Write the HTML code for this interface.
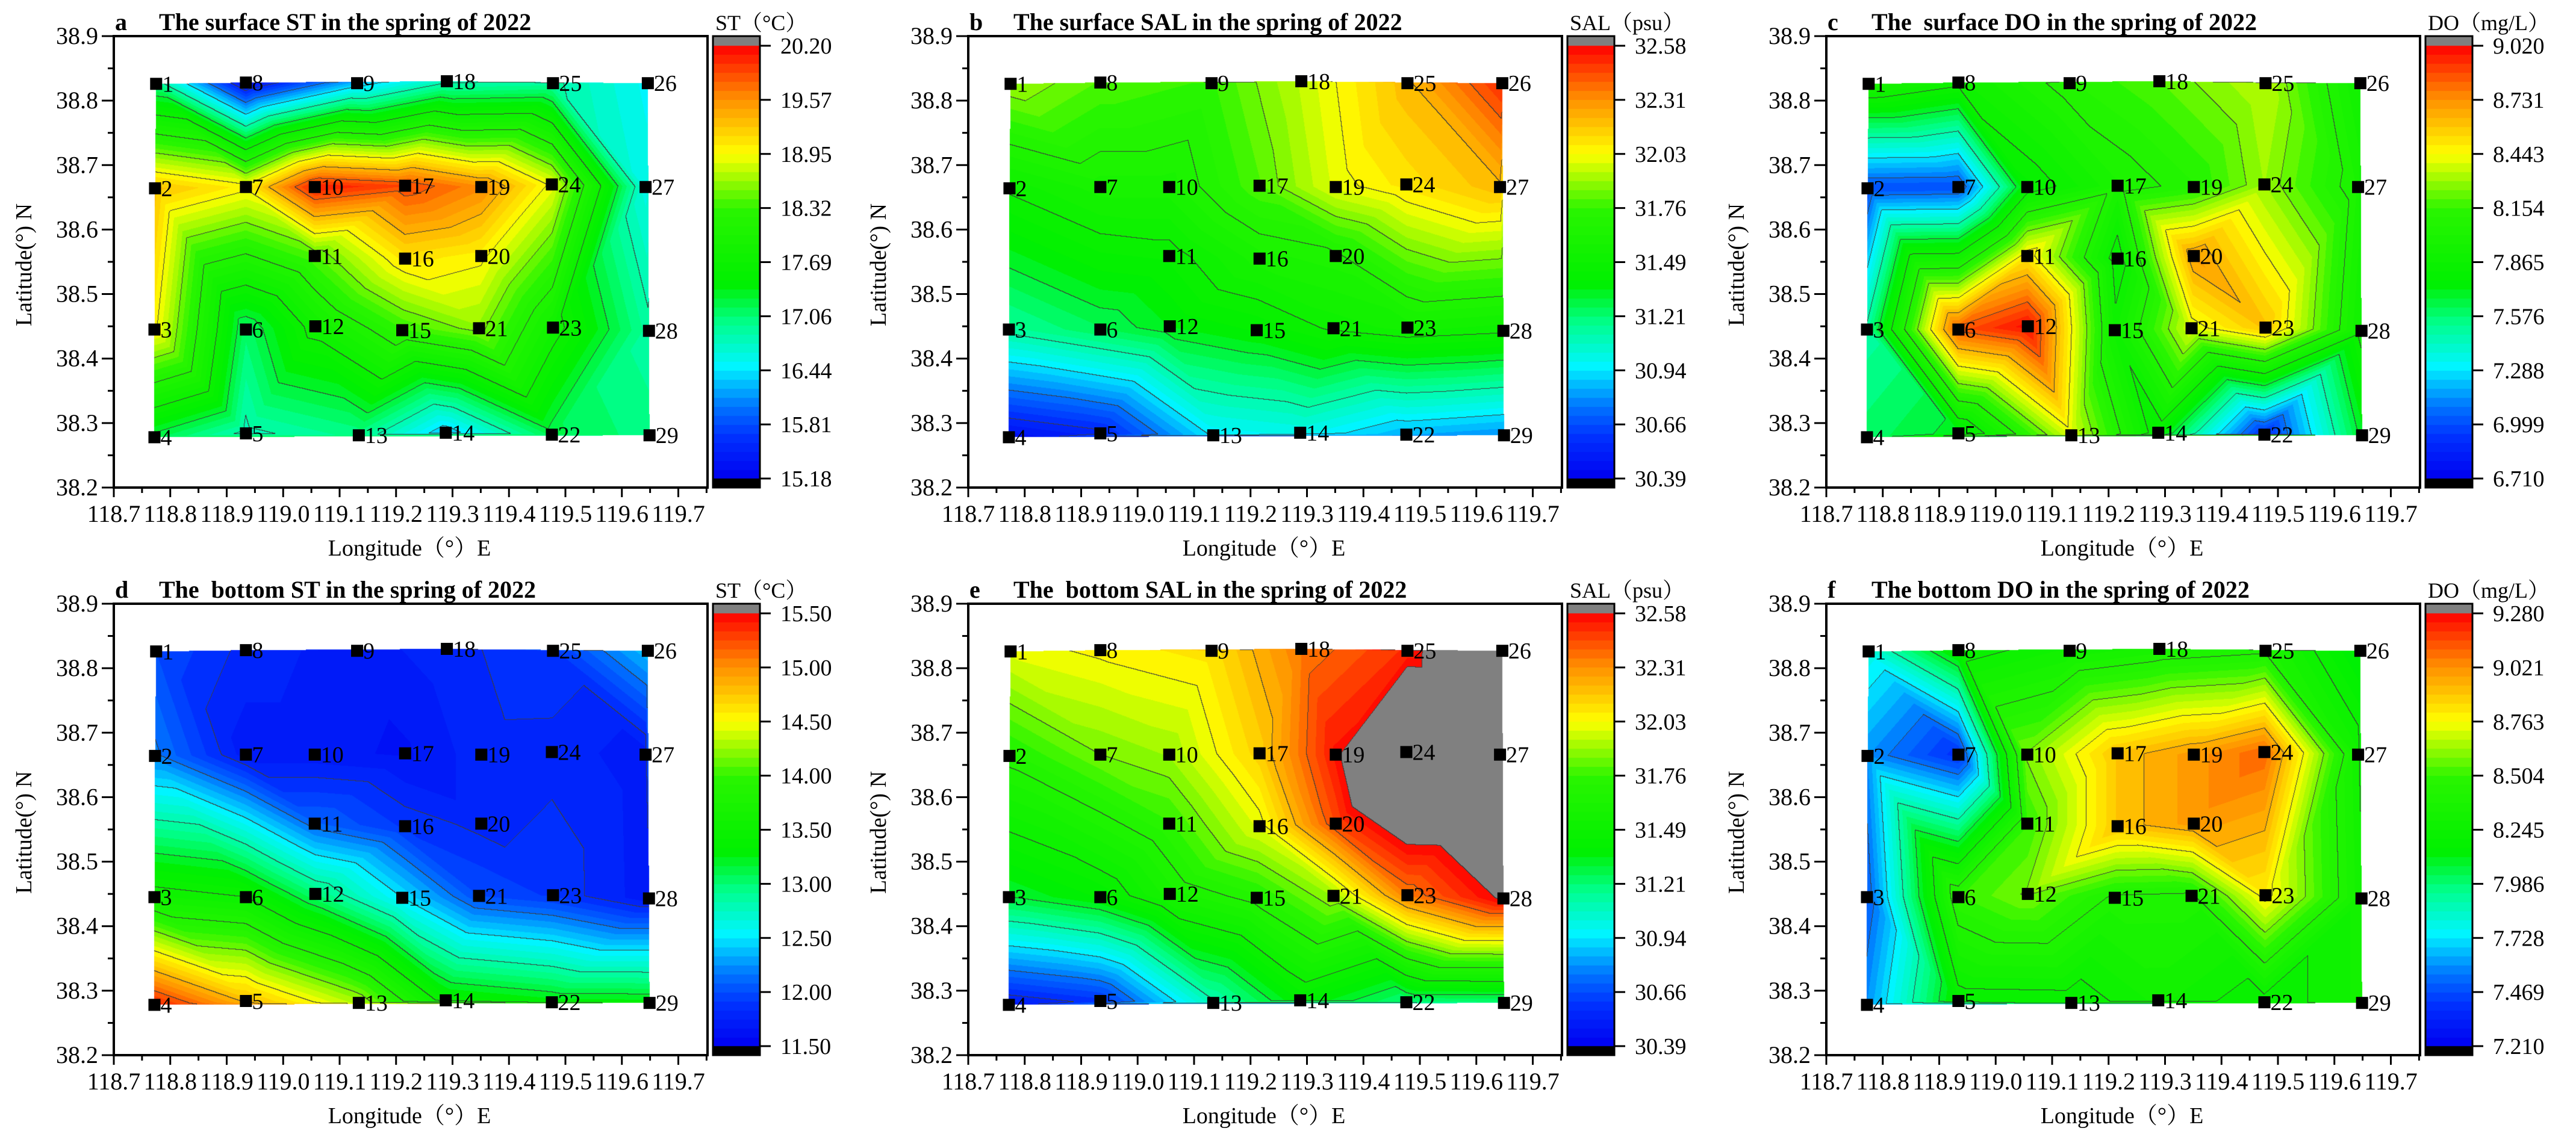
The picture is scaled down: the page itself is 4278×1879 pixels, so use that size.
<!DOCTYPE html>
<html><head><meta charset="utf-8"><style>
html,body{margin:0;padding:0;background:#fff;}
#wrap{position:relative;width:4278px;height:1879px;overflow:hidden;}
canvas,svg{position:absolute;left:0;top:0;}
text{font-family:"Liberation Serif","Noto Serif CJK SC",serif;white-space:pre;}
</style></head><body>
<div id="wrap">
<canvas id="cv" width="4278" height="1879"></canvas>
<svg id="sv" width="4278" height="1879" xmlns="http://www.w3.org/2000/svg"></svg>
</div>
<script>
const stationIds=[1,2,3,4,5,6,7,8,9,10,11,12,13,14,15,16,17,18,19,20,21,22,23,24,25,26,27,28,29];
const stationLon=[118.775,118.773,118.772,118.772,118.934,118.934,118.934,118.934,119.131,119.056,119.056,119.057,119.134,119.288,119.211,119.216,119.216,119.290,119.351,119.351,119.347,119.476,119.478,119.476,119.478,119.646,119.642,119.648,119.649];
const stationLat=[38.826,38.664,38.445,38.278,38.284,38.445,38.666,38.828,38.827,38.666,38.559,38.450,38.281,38.285,38.444,38.555,38.668,38.830,38.666,38.559,38.447,38.282,38.448,38.670,38.827,38.827,38.666,38.443,38.281];
const surfST=[17.0,19.3,19.0,17.2,16.8,17.1,19.0,15.3,16.3,20.1,18.4,17.8,17.0,16.3,18.3,19.1,19.9,16.8,19.6,19.0,18.6,17.2,17.8,18.9,16.9,16.5,16.6,16.9,17.0];
const surfSAL=[31.9,31.5,31.15,30.45,30.55,31.25,31.6,31.8,31.75,31.6,31.45,31.35,30.95,31.0,31.4,31.6,31.8,31.95,32.0,31.65,31.5,30.85,31.55,32.1,32.2,32.5,32.2,31.5,30.8];
const surfDO=[8.0,7.0,7.5,7.6,7.7,8.85,7.0,7.9,8.1,7.8,8.5,9.0,8.4,7.8,7.9,7.8,8.0,8.2,8.1,8.7,8.4,6.9,8.6,8.3,8.35,7.9,8.0,7.9,7.7];
const botST=[12.0,12.2,13.6,15.4,14.8,13.5,11.7,11.8,11.7,11.7,12.1,13.0,14.3,13.4,12.5,11.9,11.65,11.8,11.8,11.8,12.0,13.3,11.9,11.8,11.9,12.4,11.7,11.7,13.3];
const botSAL=[32.0,31.7,31.3,30.5,30.6,31.4,31.85,32.05,32.1,31.9,31.75,31.6,31.1,31.4,31.7,32.0,32.15,32.35,32.55,32.45,31.9,31.2,32.35,33.0,32.5,33.0,33.0,32.6,31.2];
const botDO=[7.8,7.6,7.5,7.6,8.2,8.5,7.4,8.2,8.3,8.6,8.5,8.6,8.2,8.3,8.4,8.9,8.9,8.35,9.0,9.0,8.4,8.2,8.8,9.1,8.4,8.1,8.3,8.3,8.3];
const latTicks=["38.9","38.8","38.7","38.6","38.5","38.4","38.3","38.2"];
const lonTicks=["118.7","118.8","118.9","119.0","119.1","119.2","119.3","119.4","119.5","119.6","119.7"];
const cbST1=["20.20","19.57","18.95","18.32","17.69","17.06","16.44","15.81","15.18"];
const cbSAL=["32.58","32.31","32.03","31.76","31.49","31.21","30.94","30.66","30.39"];
const cbDO1=["9.020","8.731","8.443","8.154","7.865","7.576","7.288","6.999","6.710"];
const cbST2=["15.50","15.00","14.50","14.00","13.50","13.00","12.50","12.00","11.50"];
const cbDO2=["9.280","9.021","8.763","8.504","8.245","7.986","7.728","7.469","7.210"];

const panels=[
 {id:'a',ox:0,oy:0,title:"The surface ST in the spring of 2022",cbl:"ST（°C）",vals:surfST,ticks:cbST1},
 {id:'b',ox:1419,oy:0,title:"The surface SAL in the spring of 2022",cbl:"SAL（psu）",vals:surfSAL,ticks:cbSAL},
 {id:'c',ox:2844,oy:0,title:"The  surface DO in the spring of 2022",cbl:"DO（mg/L）",vals:surfDO,ticks:cbDO1},
 {id:'d',ox:0,oy:943,title:"The  bottom ST in the spring of 2022",cbl:"ST（°C）",vals:botST,ticks:cbST2},
 {id:'e',ox:1419,oy:943,title:"The  bottom SAL in the spring of 2022",cbl:"SAL（psu）",vals:botSAL,ticks:cbSAL},
 {id:'f',ox:2844,oy:943,title:"The bottom DO in the spring of 2022",cbl:"DO（mg/L）",vals:botDO,ticks:cbDO2}
];
const FL=189,FR=1175,FT=60,FB=810,CBL=1184,CBR=1262,CBT=76,CBB=795;
const xS=lon=>FL+(lon-118.7)*937.5;
const yS=lat=>FT+(38.9-lat)*1071.4;
const NL=48;
const stops=[[0,[0,0,240]],[0.1,[0,50,255]],[0.17,[0,120,255]],[0.26,[0,245,255]],[0.36,[0,255,140]],[0.45,[0,240,0]],[0.62,[40,245,0]],[0.75,[255,255,0]],[0.88,[255,140,0]],[1,[255,0,0]]];
function cmap(t){for(let i=1;i<stops.length;i++){if(t<=stops[i][0]){const a=stops[i-1],b=stops[i];const f=(t-a[0])/(b[0]-a[0]);return a[1].map((c,k)=>Math.round(c+(b[1][k]-c)*f));}}return stops[stops.length-1][1];}

function delaunay(P){
 const big=1e5;
 const pts=P.slice();pts.push([-big,-big],[big,-big],[0,big]);
 const n=P.length;
 function circ(a,b,c){const ax=pts[a][0],ay=pts[a][1],bx=pts[b][0],by=pts[b][1],cx=pts[c][0],cy=pts[c][1];
  const d=2*(ax*(by-cy)+bx*(cy-ay)+cx*(ay-by));
  const ux=((ax*ax+ay*ay)*(by-cy)+(bx*bx+by*by)*(cy-ay)+(cx*cx+cy*cy)*(ay-by))/d;
  const uy=((ax*ax+ay*ay)*(cx-bx)+(bx*bx+by*by)*(ax-cx)+(cx*cx+cy*cy)*(bx-ax))/d;
  return [ux,uy,(ax-ux)**2+(ay-uy)**2];}
 let T=[[n,n+1,n+2]];T[0].c=circ(n,n+1,n+2);
 for(let i=0;i<n;i++){
  const [px,py]=pts[i];const bad=[],keep=[];
  for(const t of T){const c=t.c;if((px-c[0])**2+(py-c[1])**2<c[2])bad.push(t);else keep.push(t);}
  const edges=[];
  for(const t of bad){for(const e of [[t[0],t[1]],[t[1],t[2]],[t[2],t[0]]]){
   let shared=false;for(const u of bad){if(u===t)continue;if(u.includes(e[0])&&u.includes(e[1])){shared=true;break;}}
   if(!shared)edges.push(e);}}
  T=keep;
  for(const e of edges){const t=[e[0],e[1],i];t.c=circ(e[0],e[1],i);T.push(t);}
 }
 return T.filter(t=>t[0]<n&&t[1]<n&&t[2]<n);
}
const basePts=stationLon.map((lo,i)=>[xS(lo),yS(stationLat[i])]);
const TRI=delaunay(basePts);

const cv=document.getElementById('cv');const ctx=cv.getContext('2d');
const img=ctx.createImageData(4278,1879);const D=img.data;
for(let i=0;i<D.length;i+=4){D[i]=D[i+1]=D[i+2]=255;D[i+3]=255;}
function lvl(v,mn,mx){if(v>mx)return NL;if(v<mn)return -1;return Math.min(NL-1,Math.floor((v-mn)/(mx-mn)*NL));}
function colOf(l){if(l>=NL)return [128,128,128];if(l<0)return [0,0,0];return cmap((l+0.5)/NL);}
for(const p of panels){
 const mx=parseFloat(p.ticks[0]),mn=parseFloat(p.ticks[p.ticks.length-1]);
 const W=FR-FL,H=FB-FT;const L=new Int16Array(W*H).fill(-999);
 for(const t of TRI){
  const [a,b,c]=t;const A=basePts[a],B=basePts[b],C=basePts[c];
  const va=p.vals[a],vb=p.vals[b],vc=p.vals[c];
  const x0=Math.floor(Math.min(A[0],B[0],C[0])),x1=Math.ceil(Math.max(A[0],B[0],C[0]));
  const y0=Math.floor(Math.min(A[1],B[1],C[1])),y1=Math.ceil(Math.max(A[1],B[1],C[1]));
  const den=(B[1]-C[1])*(A[0]-C[0])+(C[0]-B[0])*(A[1]-C[1]);
  for(let y=y0;y<=y1;y++)for(let x=x0;x<=x1;x++){
   const X=x+0.5,Y=y+0.5;
   const w1=((B[1]-C[1])*(X-C[0])+(C[0]-B[0])*(Y-C[1]))/den;
   const w2=((C[1]-A[1])*(X-C[0])+(A[0]-C[0])*(Y-C[1]))/den;
   const w3=1-w1-w2;
   if(w1<-1e-6||w2<-1e-6||w3<-1e-6)continue;
   const v=w1*va+w2*vb+w3*vc;
   const lx=x-FL,ly=y-FT;if(lx<0||ly<0||lx>=W||ly>=H)continue;
   L[ly*W+lx]=lvl(v,mn,mx);
  }
 }
 for(let ly=0;ly<H;ly++)for(let lx=0;lx<W;lx++){
  const l=L[ly*W+lx];if(l===-999)continue;
  let c=colOf(l);
  const g=Math.floor(l/4);
  const r=lx+1<W?L[ly*W+lx+1]:-999,d=ly+1<H?L[(ly+1)*W+lx]:-999;
  if((r!==-999&&Math.floor(r/4)!==g)||(d!==-999&&Math.floor(d/4)!==g))c=[60,60,60];
  const idx=((p.oy+FT+ly)*4278+(p.ox+FL+lx))*4;
  D[idx]=c[0];D[idx+1]=c[1];D[idx+2]=c[2];
 }
 for(let y=p.oy+FT;y<p.oy+FB;y++){
  let c;
  if(y<p.oy+CBT)c=[128,128,128];else if(y>=p.oy+CBB)c=[0,0,0];
  else{const t=(p.oy+CBB-y)/(CBB-CBT);c=colOf(Math.min(NL-1,Math.floor(t*NL)));}
  for(let x=p.ox+CBL;x<p.ox+CBR;x++){const idx=(y*4278+x)*4;D[idx]=c[0];D[idx+1]=c[1];D[idx+2]=c[2];}
 }
}
ctx.putImageData(img,0,0);

const NS="http://www.w3.org/2000/svg";const sv=document.getElementById('sv');
function mk(tag,attrs,parent,txt){const e=document.createElementNS(NS,tag);for(const k in attrs)e.setAttribute(k,attrs[k]);if(txt!==undefined)e.textContent=txt;(parent||sv).appendChild(e);return e;}
for(const p of panels){
 const g=mk('g',{transform:`translate(${p.ox},${p.oy})`});
 
 
 const fr=mk('rect',{x:FL,y:FT,width:FR-FL,height:FB-FT,fill:'none',stroke:'#000','stroke-width':4},g);
 
 
 const cb=mk('rect',{x:CBL,y:FT,width:CBR-CBL,height:FB-FT,fill:'none',stroke:'#000','stroke-width':3},g);
 
 
 for(let i=0;i<=14;i++){const y=FT+i*53.57;const major=i%2===0;
  mk('line',{x1:FL-(major?20:10),x2:FL,y1:y,y2:y,stroke:'#000','stroke-width':3},g);}
 latTicks.forEach((s,i)=>{const t=mk('text',{x:FL-26,y:FT+i*107.14+13,'font-size':40,'text-anchor':'end'},g,s);
  
  });
 for(let i=0;i<=21;i++){const x=FL+i*46.875;if(x>FR)break;const major=i%2===0;
  mk('line',{x1:x,x2:x,y1:FB,y2:FB+(major?16:9),stroke:'#000','stroke-width':3},g);}
 lonTicks.forEach((s,i)=>{const t=mk('text',{x:FL+i*93.75,y:FB+57,'font-size':40,'text-anchor':'middle'},g,s);
  
  });
 const xt=mk('text',{x:680,y:FB+113,'font-size':38,'text-anchor':'middle'},g,"Longitude（°）E");
 
 
 const yt=mk('text',{x:0,y:0,'font-size':38,'text-anchor':'middle',transform:`translate(52,440) rotate(-90)`},g,"Latitude(°) N");
 
 
 const lt=mk('text',{x:191,y:50,'font-size':40,'font-weight':'bold'},g,p.id);
 
 
 const tt=mk('text',{x:264,y:50,'font-size':40,'font-weight':'bold'},g,p.title);
 
 
 const cl=mk('text',{x:CBL+4,y:50,'font-size':36},g,p.cbl);
 
 
 p.ticks.forEach((s,i)=>{const y=CBT+i*(CBB-CBT)/8;
  mk('line',{x1:CBR,x2:CBR+18,y1:y,y2:y,stroke:'#000','stroke-width':3},g);
  const t=mk('text',{x:CBR+34,y:y+13,'font-size':38},g,s);
  
  });
 stationIds.forEach((id,i)=>{const x=xS(stationLon[i]),y=yS(stationLat[i]);
  const m=mk('rect',{x:x-10,y:y-10,width:20,height:20,fill:'#000'},g);
  
  
  const t=mk('text',{x:x+10,y:y+13,'font-size':38},g,String(id));
  
  });
}
</script>
</body></html>
